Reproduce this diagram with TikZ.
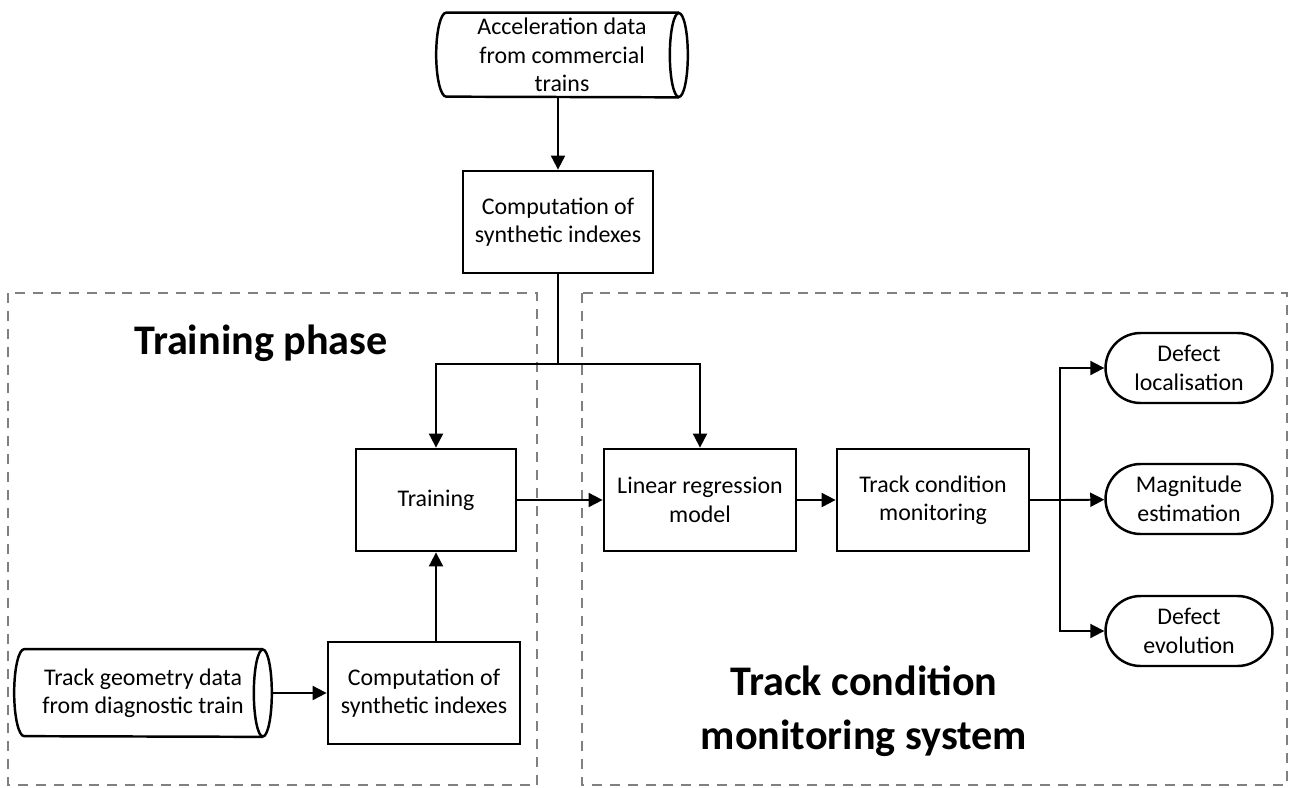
\documentclass[tikz,border=0pt]{standalone}
\usepackage{fontspec}
\setmainfont{Carlito}
\usetikzlibrary{arrows.meta,positioning,calc,shapes.geometric,shapes.misc}

% horizontal drum outline round a text node: #1 node, #2 left bulge, #3 end radius, #4 half height
\newcommand\drumoutline[4]{%
  \draw[drum] ($(#1.north east)+(-#3,0)$) -- ($(#1.north west)+(#2,0)$)
    arc[start angle=270,end angle=90,x radius=#2,y radius=#4]
    -- ($(#1.south east)+(-#3,0)$);
  \draw[drum] ($(#1.east)+(-#3,0)$) ellipse[x radius=#3,y radius=#4];}

\begin{document}
\begin{tikzpicture}[>={Triangle[length=8pt,width=8pt]},x=0.02cm,y=-0.02cm,
 font=\fontsize{13.6}{16.2}\selectfont,
 box/.style={draw,line width=1.6pt,align=center,inner sep=2pt,minimum width=3.84cm,minimum height=2.04cm},
 store/.style={align=center,inner sep=2pt,minimum width=5.02cm,minimum height=1.68cm},
 drum/.style={line width=1.4pt},
 outcome/.style={draw,line width=1.4pt,rounded rectangle,align=center,inner sep=2pt,minimum width=3.48cm,minimum height=1.4cm},
 phase/.style={draw=gray,line width=1.1pt,dash pattern=on 5.7pt off 4.5pt},
 title/.style={font=\fontsize{24}{30.5}\selectfont\bfseries,align=center},
 link/.style={line width=1.1pt}]
\useasboundingbox (0,0) rectangle (1293,787);
% phase frames
\draw[phase] (8,293) rectangle (537,785);
\draw[phase] (582,293) rectangle (1287,785);
\node[title] (ttrain) at (261,343) {Training phase};
\node[title] (tmon) at (864,711) {Track condition\\monitoring system};
% blocks
\node[store] (acc) at (562,55) {Acceleration data\\from commercial\\trains};
\drumoutline{acc}{10}{9}{42}
\node[box,minimum width=3.8cm] (comp1) at (558,222) {Computation of\\synthetic indexes};
\node[box,minimum width=3.2cm] (train) at (436,500) {Training};
\node[box] (lrm) at (700,500) {Linear regression\\model};
\node[box] (tcm) at (933,500) {Track condition\\monitoring};
\node[box] (comp2) at (424,693) {Computation of\\synthetic indexes};
\node[store,minimum width=5.14cm,minimum height=1.74cm] (geo) at (143,693) {Track geometry data\\from diagnostic train};
\drumoutline{geo}{10}{9}{43.5}
\node[outcome] (loc) at (1189,368) {Defect\\localisation};
\node[outcome] (mag) at (1189,499) {Magnitude\\estimation};
\node[outcome] (evo) at (1189,631) {Defect\\evolution};
\coordinate (split) at (558,364);
\coordinate (fork) at (1060,500);
% connectors
\draw[link,->] (acc.south -| comp1.north) -- (comp1);
\draw[link] (comp1) -- (split);
\draw[link,->] (split) -| (train);
\draw[link,->] (split) -| (lrm);
\draw[link,->] (geo) -- (comp2);
\draw[link,->] (train.south |- comp2.north) -- (train.south);
\draw[link,->] (train) -- (lrm);
\draw[link,->] (lrm) -- (tcm);
\draw[link] (tcm) -- (fork);
\draw[link,->] (fork) |- (loc);
\draw[link,->] (fork) -- (mag);
\draw[link,->] (fork) |- (evo);
\end{tikzpicture}
\end{document}
